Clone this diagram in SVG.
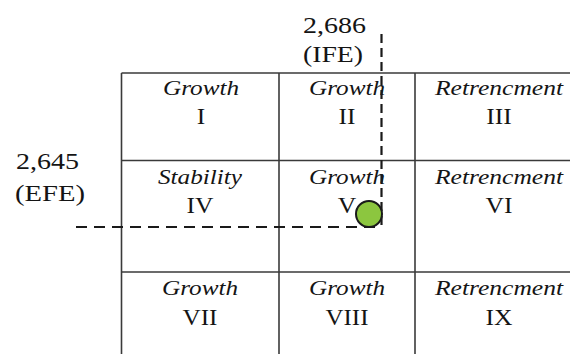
<svg xmlns="http://www.w3.org/2000/svg" width="570" height="354" viewBox="0 0 570 354">
<style>
.bg{fill:#ffffff}
.grid{stroke:#3a3a3a;stroke-width:1.6;fill:none}
.t{font-family:"Liberation Serif","Times New Roman",serif;fill:#141414;text-anchor:middle}
.lab{font-size:24px}
.name{font-size:22px;font-style:italic}
.num{font-size:22.5px}
.dash{stroke:#1a1a1a;stroke-width:2.2;fill:none}
.pt{fill:#8cc63f;stroke:#1a1a1a;stroke-width:2}
</style>
<rect class="bg" x="0" y="0" width="570" height="354"/>
<g id="grid">
<line class="grid" x1="121.5" y1="73" x2="570" y2="73"/>
<line class="grid" x1="121.5" y1="160.5" x2="570" y2="160.5"/>
<line class="grid" x1="121.5" y1="272" x2="570" y2="272"/>
<line class="grid" x1="121.5" y1="73" x2="121.5" y2="354"/>
<line class="grid" x1="279" y1="73" x2="279" y2="354"/>
<line class="grid" x1="415" y1="73" x2="415" y2="354"/>
</g>
<g id="cell-I"><text class="t name" x="201" y="95" textLength="76" lengthAdjust="spacingAndGlyphs">Growth</text><text class="t num" x="201" y="123.5" textLength="8.5" lengthAdjust="spacingAndGlyphs">I</text></g>
<g id="cell-II"><text class="t name" x="347" y="95" textLength="76" lengthAdjust="spacingAndGlyphs">Growth</text><text class="t num" x="347" y="123.5" textLength="17" lengthAdjust="spacingAndGlyphs">II</text></g>
<g id="cell-III"><text class="t name" x="499" y="95" textLength="128" lengthAdjust="spacingAndGlyphs">Retrencment</text><text class="t num" x="499" y="123.5" textLength="25.5" lengthAdjust="spacingAndGlyphs">III</text></g>
<g id="cell-IV"><text class="t name" x="200" y="183.5" textLength="84" lengthAdjust="spacingAndGlyphs">Stability</text><text class="t num" x="200" y="213" textLength="27" lengthAdjust="spacingAndGlyphs">IV</text></g>
<g id="cell-V"><text class="t name" x="347" y="183.5" textLength="76" lengthAdjust="spacingAndGlyphs">Growth</text><text class="t num" x="347" y="213" textLength="18.5" lengthAdjust="spacingAndGlyphs">V</text></g>
<g id="cell-VI"><text class="t name" x="499" y="183.5" textLength="128" lengthAdjust="spacingAndGlyphs">Retrencment</text><text class="t num" x="499" y="213" textLength="27" lengthAdjust="spacingAndGlyphs">VI</text></g>
<g id="cell-VII"><text class="t name" x="200" y="295" textLength="76" lengthAdjust="spacingAndGlyphs">Growth</text><text class="t num" x="200" y="325" textLength="35" lengthAdjust="spacingAndGlyphs">VII</text></g>
<g id="cell-VIII"><text class="t name" x="347" y="295" textLength="76" lengthAdjust="spacingAndGlyphs">Growth</text><text class="t num" x="347" y="325" textLength="43" lengthAdjust="spacingAndGlyphs">VIII</text></g>
<g id="cell-IX"><text class="t name" x="499" y="295" textLength="128" lengthAdjust="spacingAndGlyphs">Retrencment</text><text class="t num" x="499" y="325" textLength="27" lengthAdjust="spacingAndGlyphs">IX</text></g>
<g id="label-ife"><text class="t lab" x="334.5" y="33" textLength="63" lengthAdjust="spacingAndGlyphs">2,686</text><text class="t lab" x="333" y="61.5" textLength="60" lengthAdjust="spacingAndGlyphs">(IFE)</text></g>
<g id="label-efe"><text class="t lab" x="47.5" y="169" textLength="63" lengthAdjust="spacingAndGlyphs">2,645</text><text class="t lab" x="50" y="201" textLength="70" lengthAdjust="spacingAndGlyphs">(EFE)</text></g>
<g id="connectors">
<line class="dash" x1="381.5" y1="34" x2="381.5" y2="227" stroke-dasharray="9 5"/>
<line class="dash" x1="76" y1="227" x2="382" y2="227" stroke-dasharray="11 7"/>
</g>
<g id="point"><circle class="pt" cx="369" cy="214" r="13"/></g>
</svg>
